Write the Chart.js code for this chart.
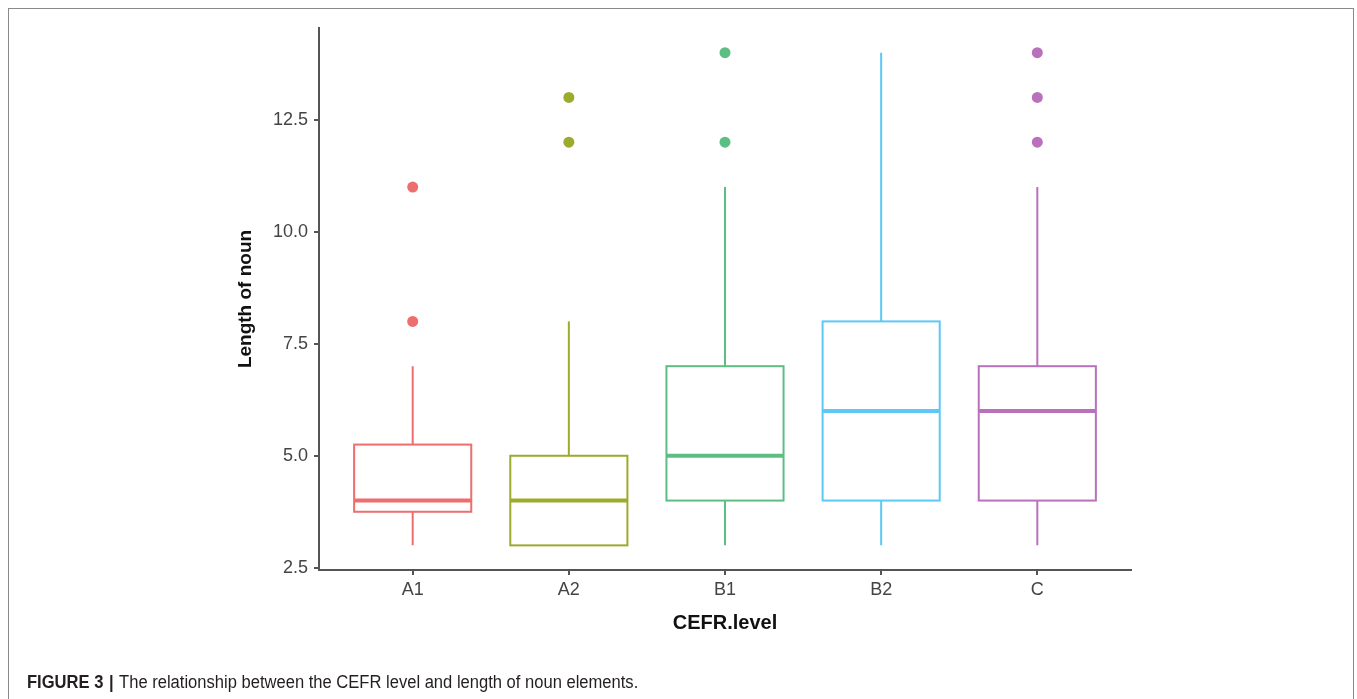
<!DOCTYPE html>
<html>
<head>
<meta charset="utf-8">
<script src="https://cdn.jsdelivr.net/npm/chart.js@4"></script>
<style>
    html, body { margin: 0; padding: 0; background: #fff; }
    body { width: 1357px; height: 699px; position: relative; overflow: hidden; }
    .frame {
        position: absolute; left: 8px; top: 8px; width: 1346px; height: 720px;
        border: 1px solid #8a8a8a; box-sizing: border-box;
    }
    #chart { position: absolute; left: 0; top: 0; }
    .caption {
        position: absolute; left: 27px; top: 672px;
        font-family: 'Liberation Sans', Arial, sans-serif;
        font-size: 18px; color: #231f20; white-space: nowrap;
        transform: scaleX(0.92); transform-origin: left top;
    }
    .caption b { font-weight: bold; }
    .caption .sep { margin: 0 6px; font-weight: bold; }
</style>
</head>
<body>
<div class="frame"></div>
<canvas id="chart" width="1357" height="699"></canvas>
<div class="caption"><b>FIGURE 3</b><span class="sep">|</span>The relationship between the CEFR level and length of noun elements.</div>
<script>
// Data
const categories = ['A1', 'A2', 'B1', 'B2', 'C'];
const whiskerLow = [3, 3, 3, 3, 3];
const q1 = [3.75, 3, 4, 4, 4];
const medians = [4, 4, 5, 6, 6];
const q3 = [5.25, 5, 7, 8, 7];
const whiskerHigh = [7, 8, 11, 14, 11];
const outliers = [[8, 11], [12, 13], [12, 14], [], [12, 13, 14]];
const yTicks = [2.5, 5.0, 7.5, 10.0, 12.5];
const colors = ['#EE6D6D', '#9CAB2C', '#5DBE84', '#5CC8F5', '#B971BC'];

const boxWidth = 0.75;

// outlier points as scatter datasets, one per group
const outlierSets = categories.map((cat, i) => ({
    type: 'scatter',
    label: cat,
    data: outliers[i].map(v => ({ x: i + 1, y: v })),
    backgroundColor: colors[i],
    borderColor: colors[i],
    pointRadius: 5.5,
    pointHoverRadius: 5.5,
    borderWidth: 0
}));

// draws boxes, whiskers and medians through the chart scales
const boxPlotPlugin = {
    id: 'boxes',
    beforeDatasetsDraw(chart) {
        const ctx = chart.ctx;
        const x = chart.scales.x;
        const y = chart.scales.y;
        ctx.save();
        categories.forEach((cat, i) => {
            const cx = x.getPixelForValue(i + 1);
            const left = x.getPixelForValue(i + 1 - boxWidth / 2);
            const right = x.getPixelForValue(i + 1 + boxWidth / 2);
            const yq1 = y.getPixelForValue(q1[i]);
            const yq3 = y.getPixelForValue(q3[i]);
            ctx.strokeStyle = colors[i];
            ctx.lineCap = 'butt';

            // whiskers
            ctx.lineWidth = 2;
            ctx.beginPath();
            ctx.moveTo(cx, y.getPixelForValue(whiskerHigh[i]));
            ctx.lineTo(cx, yq3);
            ctx.moveTo(cx, yq1);
            ctx.lineTo(cx, y.getPixelForValue(whiskerLow[i]));
            ctx.stroke();

            // box
            ctx.lineWidth = 2;
            ctx.strokeRect(left, yq3, right - left, yq1 - yq3);

            // median
            ctx.lineWidth = 4;
            ctx.beginPath();
            const ym = y.getPixelForValue(medians[i]);
            ctx.moveTo(left, ym);
            ctx.lineTo(right, ym);
            ctx.stroke();
        });
        ctx.restore();
    }
};

const axisColor = '#555555';
const tickFont = { family: "'Liberation Sans', Arial, sans-serif", size: 18 };

new Chart(document.getElementById('chart'), {
    type: 'scatter',
    data: { datasets: outlierSets },
    plugins: [boxPlotPlugin],
    options: {
        responsive: false,
        animation: false,
        layout: { padding: { left: 232, top: 28, right: 226, bottom: 60 } },
        plugins: {
            legend: { display: false },
            tooltip: { enabled: false }
        },
        scales: {
            x: {
                type: 'linear',
                min: 0.4,
                max: 5.6,
                afterBuildTicks: scale => {
                    scale.ticks = categories.map((c, i) => ({ value: i + 1 }));
                },
                afterFit: scale => { scale.height = 699 - 60 - 570; },
                ticks: {
                    color: '#444',
                    font: tickFont,
                    padding: 4,
                    callback: v => categories[v - 1]
                },
                grid: { drawOnChartArea: false, drawTicks: true, tickLength: 5, color: axisColor, lineWidth: 2 },
                border: { display: true, color: axisColor, width: 2 },
                title: {
                    display: true, text: 'CEFR.level', color: '#111',
                    font: { family: "'Liberation Sans', Arial, sans-serif", size: 20, weight: 'bold' },
                    padding: { top: 4 }
                }
            },
            y: {
                min: 2.45,
                max: 14.55,
                afterBuildTicks: scale => {
                    scale.ticks = yTicks.map(v => ({ value: v }));
                },
                afterFit: scale => { scale.width = 319 - 232; },
                ticks: {
                    color: '#444',
                    font: tickFont,
                    padding: 6,
                    callback: v => Number(v).toFixed(1)
                },
                grid: { drawOnChartArea: false, drawTicks: true, tickLength: 5, color: axisColor, lineWidth: 2 },
                border: { display: true, color: axisColor, width: 2 },
                title: {
                    display: true, text: 'Length of noun', color: '#111',
                    font: { family: "'Liberation Sans', Arial, sans-serif", size: 19, weight: 'bold' },
                    padding: { top: 2, bottom: 0 }
                }
            }
        }
    }
});
</script>
</body>
</html>
